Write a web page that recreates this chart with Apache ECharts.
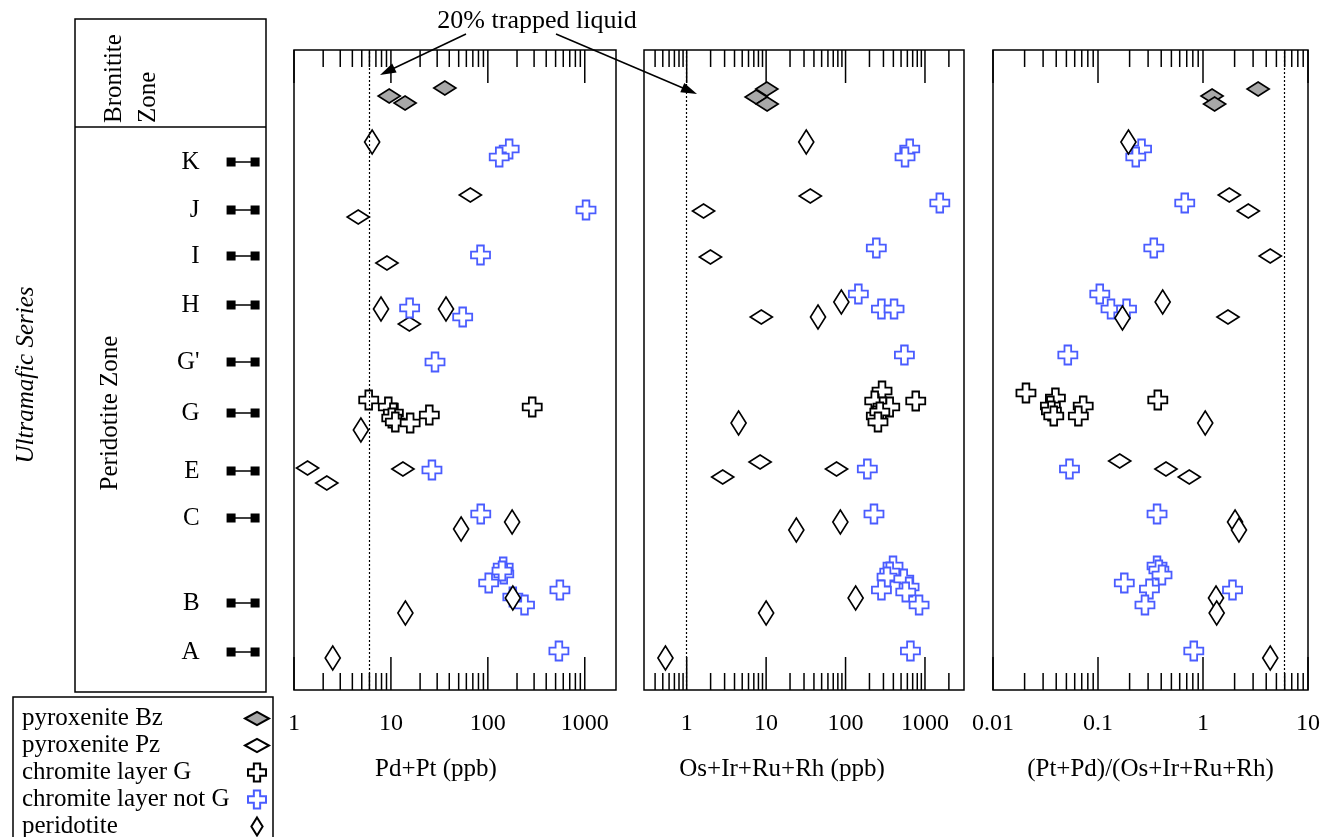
<!DOCTYPE html>
<html>
<head>
<meta charset="utf-8">
<title>PGE profiles</title>
<script src="https://cdn.jsdelivr.net/npm/echarts@6/dist/echarts.min.js"></script>
<style>
  html, body { margin: 0; padding: 0; background: #fff; }
  #chart { width: 1323px; height: 837px; }
</style>
</head>
<body>
<div id="chart"></div>
<script>
// stratigraphic layers (relative height above base of section)
const layerNames = ["K", "J", "I", "H", "G'", "G", "E", "C", "B", "A"];
const layerHeights = [528, 480, 434, 385, 328, 277, 219, 172, 87, 38];
const zoneBoundary = 563;

// Pd+Pt (ppb)  -> [value, height]
const pdptBz = [[9.6, 594], [14, 587], [36, 602]];
const pdptPz = [[66, 495], [4.6, 473], [9.1, 427], [15.5, 366], [1.38, 222], [2.18, 207], [13.3, 221]];
const pdptChrG = [[5.9, 290], [9.4, 283], [10.6, 277], [10.2, 272], [11.1, 268], [15.8, 267], [24.9, 275], [287, 283]];
const pdptChrNotG = [[166, 541], [131, 533], [1030, 480], [84, 435], [15.6, 382], [55, 373], [28.5, 328], [26.5, 220],
  [84.5, 176], [144, 123], [146, 116], [140, 119], [102, 107], [554, 100], [181, 93], [239, 85], [541, 39]];
const pdptPerid = [[6.4, 548], [7.9, 381], [37, 381], [4.9, 260], [178, 168], [53, 161], [181, 92], [14.1, 77], [2.51, 32]];

// Os+Ir+Ru+Rh (ppb)
const ppgeBz = [[10.2, 601], [7.5, 593], [10.3, 586]];
const ppgePz = [[36, 494], [1.63, 479], [1.99, 433], [8.7, 373], [8.4, 228], [2.84, 213], [77, 221]];
const ppgeChrG = [[288, 299], [233, 289], [296, 283], [360, 283], [244, 274], [270, 278], [256, 268], [765, 289]];
const ppgeChrNotG = [[643, 541], [561, 533], [1537, 487], [244, 442], [145, 396], [283, 381], [408, 381], [551, 335],
  [188, 221], [228, 176], [396, 124], [360, 118], [333, 113], [541, 111], [631, 103], [573, 98], [283, 100], [843, 85], [656, 39]];
const ppgePerid = [[32, 548], [88.5, 388], [45, 373], [4.5, 267], [86, 168], [24, 160], [134, 92], [10, 77], [0.54, 32]];

// (Pt+Pd)/(Os+Ir+Ru+Rh)
const ratioBz = [[3.35, 601], [1.22, 594], [1.29, 586]];
const ratioPz = [[1.78, 495], [2.7, 479], [4.37, 434], [1.73, 373], [0.161, 229], [0.444, 221], [0.74, 213]];
const ratioChrG = [[0.0206, 297], [0.0393, 292], [0.0352, 284], [0.036, 279], [0.0379, 274], [0.0723, 284], [0.065, 274], [0.371, 290]];
const ratioChrNotG = [[0.26, 541], [0.229, 533], [0.67, 487], [0.34, 442], [0.104, 396], [0.133, 381], [0.187, 381], [0.0516, 335],
  [0.0535, 221], [0.365, 176], [0.365, 124], [0.38, 120], [0.407, 115], [0.178, 107], [0.309, 101], [1.91, 100], [0.28, 85], [0.817, 39]];
const ratioPerid = [[0.195, 548], [0.413, 388], [0.171, 372], [1.05, 267], [2.02, 168], [2.2, 160], [1.33, 92], [1.35, 77], [4.37, 32]];

// log tick marks
const pdptMajor = [1, 10, 100, 1000];
const pdptMinor = [2, 3, 4, 5, 6, 7, 8, 9, 20, 30, 40, 50, 60, 70, 80, 90, 200, 300, 400, 500, 600, 700, 800, 900];
const ppgeMajor = [1, 10, 100, 1000];
const ppgeMinor = [0.4, 0.5, 0.6, 0.7, 0.8, 0.9, 2, 3, 4, 5, 6, 7, 8, 9, 20, 30, 40, 50, 60, 70, 80, 90,
  200, 300, 400, 500, 600, 700, 800, 900, 2000];
const ratioMajor = [0.01, 0.1, 1, 10];
const ratioMinor = [0.02, 0.03, 0.04, 0.05, 0.06, 0.07, 0.08, 0.09, 0.2, 0.3, 0.4, 0.5, 0.6, 0.7, 0.8, 0.9,
  2, 3, 4, 5, 6, 7, 8, 9];

// 20% trapped liquid reference per panel
const trappedLiquid = [6, 1, 6];

const FONT = "Liberation Serif";
const H_DIAMOND = "path://M0,6 L11,0 L22,6 L11,12 Z";
const V_DIAMOND = "path://M7.5,0 L15,12 L7.5,24 L0,12 Z";
const CROSS = "path://M6.5,0 H13.5 V6.5 H20 V13.5 H13.5 V20 H6.5 V13.5 H0 V6.5 H6.5 Z";
const LAYER_MARK = "path://M0,0 H9 V3.8 H24 V0 H33 V9 H24 V5.2 H9 V9 H0 Z";

const kinds = [
  { name: "pyroxenite Bz", symbol: H_DIAMOND, size: [22, 14], fill: "#a8a8a8", stroke: "#000" },
  { name: "pyroxenite Pz", symbol: H_DIAMOND, size: [22, 14], fill: "#fff", stroke: "#000" },
  { name: "chromite layer G", symbol: CROSS, size: [19, 19], fill: "#fff", stroke: "#000" },
  { name: "chromite layer not G", symbol: CROSS, size: [19, 19], fill: "#fff", stroke: "#4a5cff" },
  { name: "peridotite", symbol: V_DIAMOND, size: [15, 24], fill: "#fff", stroke: "#000" },
];

const panels = [
  { title: "Pd+Pt (ppb)", left: 294, width: 322, min: 1, max: 2100, major: pdptMajor, minor: pdptMinor,
    sets: [pdptBz, pdptPz, pdptChrG, pdptChrNotG, pdptPerid], namePad: 38 },
  { title: "Os+Ir+Ru+Rh (ppb)", left: 644, width: 320, min: 0.29, max: 3100, major: ppgeMajor, minor: ppgeMinor,
    sets: [ppgeBz, ppgePz, ppgeChrG, ppgeChrNotG, ppgePerid], namePad: 44 },
  { title: "(Pt+Pd)/(Os+Ir+Ru+Rh)", left: 993, width: 320, min: 0.01, max: 10, major: ratioMajor, minor: ratioMinor,
    sets: [ratioBz, ratioPz, ratioChrG, ratioChrNotG, ratioPerid], namePad: 0 },
];

function renderTicks(params, api) {
  const cs = params.coordSys;
  const x = api.coord([api.value(0), api.value(1)])[0];
  const len = api.value(2) ? 33 : 17;
  const top = cs.y, bottom = cs.y + cs.height;
  const style = { stroke: "#000", lineWidth: 1.5 };
  return {
    type: "group",
    children: [
      { type: "line", shape: { x1: x, y1: bottom, x2: x, y2: bottom - len }, style },
      { type: "line", shape: { x1: x, y1: top, x2: x, y2: top + len }, style },
    ],
  };
}

function decadeLabel(v) {
  const e = Math.log10(v);
  return Math.abs(e - Math.round(e)) < 1e-6 ? String(+v.toPrecision(6)) : "";
}

const grid = [{ left: 75, top: 19, width: 191, height: 673, show: true, borderColor: "#000", borderWidth: 1.5 }];
const xAxis = [{ gridIndex: 0, type: "value", min: 0, max: 1, show: false }];
const yAxis = [{ gridIndex: 0, type: "value", min: -2, max: 671, show: false }];
const series = [{
  name: "layers",
  type: "scatter",
  xAxisIndex: 0,
  yAxisIndex: 0,
  data: layerHeights.map((h, i) => [0.88, h, layerNames[i]]),
  symbol: LAYER_MARK,
  symbolSize: [33, 9],
  itemStyle: { color: "#000", opacity: 1 },
  label: {
    show: true, position: "left", distance: 27, formatter: (p) => p.data[2],
    fontFamily: FONT, fontSize: 25, color: "#000",
  },
  markLine: {
    silent: true, symbol: "none", label: { show: false },
    lineStyle: { color: "#000", width: 1.5, type: "solid", opacity: 1 },
    data: [{ yAxis: zoneBoundary }],
  },
  silent: true,
}];

panels.forEach((p, i) => {
  const gi = i + 1;
  grid.push({ left: p.left, top: 50, width: p.width, height: 640, show: true, borderColor: "#000", borderWidth: 1.5 });
  xAxis.push({
    gridIndex: gi, type: "log", logBase: 10, min: p.min, max: p.max,
    axisLine: { show: false }, axisTick: { show: false }, splitLine: { show: false },
    axisLabel: { formatter: decadeLabel, margin: 22, fontFamily: FONT, fontSize: 24, color: "#000" },
    name: p.title, nameLocation: "middle", nameGap: 67,
    nameTextStyle: { fontFamily: FONT, fontSize: 25, color: "#000", padding: [0, p.namePad, 0, 0] },
  });
  yAxis.push({ gridIndex: gi, type: "value", min: 0, max: 640, show: false });

  series.push({
    name: "ticks" + gi,
    type: "custom",
    xAxisIndex: gi, yAxisIndex: gi,
    silent: true,
    renderItem: renderTicks,
    encode: { x: 0, y: 1 },
    data: p.major.map((v) => [v, 0, 1]).concat(p.minor.map((v) => [v, 0, 0])),
    markLine: {
      silent: true, symbol: "none", label: { show: false },
      lineStyle: { color: "#000", width: 1.2, type: [2, 2], opacity: 1 },
      data: [{ xAxis: trappedLiquid[i] }],
    },
  });

  kinds.forEach((k, j) => {
    series.push({
      name: k.name,
      type: "scatter",
      xAxisIndex: gi, yAxisIndex: gi,
      data: p.sets[j],
      symbol: k.symbol,
      symbolSize: k.size,
      itemStyle: { color: k.fill, borderColor: k.stroke, borderWidth: 1.8, opacity: 1 },
      emphasis: { disabled: true },
    });
  });
});

const chart = echarts.init(document.getElementById("chart"));
chart.setOption({
  animation: false,
  backgroundColor: "#fff",
  grid, xAxis, yAxis, series,
  legend: {
    left: 13, top: 697, height: 200, orient: "vertical", align: "right",
    padding: [9, 8, 0, 9], itemGap: 2, itemWidth: 24, itemHeight: 18,
    selectedMode: false,
    data: kinds.map((k) => k.name),
    formatter: (name) => "{t|" + name + "}",
    textStyle: {
      fontFamily: FONT, fontSize: 25, color: "#000", lineHeight: 21,
      rich: { t: { width: 218, align: "left", fontFamily: FONT, fontSize: 25, color: "#000", lineHeight: 21 } },
    },
  },
  graphic: [
    { type: "rect", shape: { x: 13, y: 697, width: 260, height: 170 }, style: { fill: "none", stroke: "#000", lineWidth: 1.5 }, silent: true },
    { type: "text", x: 131, y: 123, rotation: Math.PI / 2,
      style: { text: "Bronitite\nZone", align: "left", verticalAlign: "middle", lineHeight: 34, font: "25px " + FONT, fill: "#000" } },
    { type: "text", x: 110, y: 413, rotation: Math.PI / 2,
      style: { text: "Peridotite Zone", align: "center", verticalAlign: "middle", font: "25px " + FONT, fill: "#000" } },
    { type: "text", x: 26, y: 375, rotation: Math.PI / 2,
      style: { text: "Ultramafic Series", align: "center", verticalAlign: "middle", font: "italic 25px " + FONT, fill: "#000" } },
    { type: "text", x: 537, y: 21,
      style: { text: "20% trapped liquid", align: "center", verticalAlign: "middle", font: "26px " + FONT, fill: "#000" } },
    { type: "line", shape: { x1: 466, y1: 34, x2: 386, y2: 72 }, style: { stroke: "#000", lineWidth: 1.5 } },
    { type: "polygon", shape: { points: [[380, 75], [396.6, 72.5], [392.2, 63.5]] }, style: { fill: "#000" } },
    { type: "line", shape: { x1: 556, y1: 34, x2: 690, y2: 91 }, style: { stroke: "#000", lineWidth: 1.5 } },
    { type: "polygon", shape: { points: [[697, 94], [680.3, 92.3], [684.3, 83.1]] }, style: { fill: "#000" } },
  ],
});
</script>
</body>
</html>
